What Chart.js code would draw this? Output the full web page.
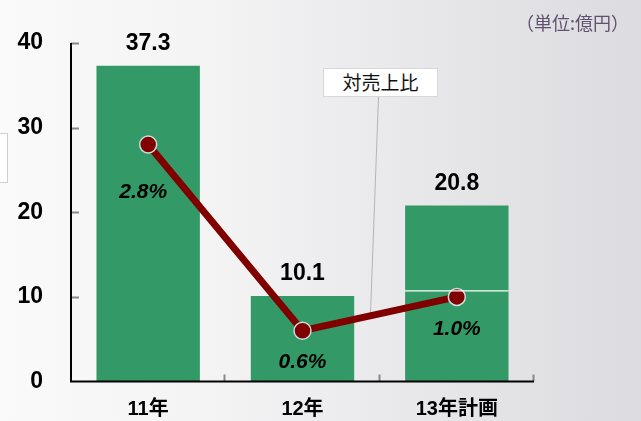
<!DOCTYPE html>
<html>
<head>
<meta charset="utf-8">
<script src="https://cdn.jsdelivr.net/npm/chart.js@4"></script>
<style>
  html, body { margin: 0; padding: 0; }
  body {
    width: 641px; height: 421px; overflow: hidden; position: relative;
    background: linear-gradient(90deg, #fafafa 0%, #f3f3f4 35%, #e6e6e9 70%, #dcdce0 100%);
    font-family: 'Liberation Sans', 'Noto Sans CJK JP', sans-serif;
  }
  #wrap { position: absolute; left: 0; top: 0; width: 641px; height: 421px; }
  .unit {
    position: absolute; right: 12px; top: 9px;
    font: 18px 'Noto Sans CJK JP', sans-serif; color: #5f5070;
  }
  .callout {
    position: absolute; left: 323px; top: 68px; width: 115px; height: 29px;
    background: #fff; border: 1px solid #d8d8d8; box-sizing: border-box;
    font: 19px 'Noto Sans CJK JP', sans-serif; color: #111;
    text-align: center; line-height: 26px;
  }
  .edgebox {
    position: absolute; left: -2px; top: 133px; width: 8px; height: 48px;
    background: #fff; border: 1px solid #cfcfcf;
  }
</style>
</head>
<body>
<div class="edgebox"></div>
<div id="wrap"><canvas id="chart" width="641" height="421"></canvas></div>
<div class="unit">（単位:億円）</div>
<div class="callout">対売上比</div>
<script>
//______________________________________________________
var Years      = ['11年', '12年', '13年計画'];
var Sales      = [37.3, 10.1, 20.8];     // 億円
var SalesRatio = [2.8, 0.6, 1.0];        // 対売上比 %
var SplitAt    = [null, null, 10.7];     // white divider inside the bar
var YTicks     = [0, 10, 20, 30, 40];

const BarColor   = '#339966';
const LineColor  = '#800000';
const PointEdge  = '#c9dde3';
const FontFamily = "'Liberation Sans', 'Noto Sans CJK JP', sans-serif";
const PctDx = [-5, 0, 0];
const PctDy = [48, 31, 32];

//______________________________________________________
// axis frame: y tick marks pointing into the plot, x ticks at category edges
const framePlugin = {
    id: 'frame',
    afterDraw(chart) {
        var ctx = chart.ctx;
        var y = chart.scales.y;
        var a = chart.chartArea;
        ctx.save();
        ctx.strokeStyle = '#888';
        ctx.lineWidth = 2;
        YTicks.forEach(function (v) {
            if (v === 0) return;
            var py = Math.round(y.getPixelForValue(v)) + 0.5;
            ctx.beginPath(); ctx.moveTo(a.left, py); ctx.lineTo(a.left + 8, py); ctx.stroke();
        });
        var step = (a.right - a.left) / Years.length;
        for (var i = 1; i <= Years.length; i++) {
            var px = Math.round(a.left + step * i) - 0.5;
            ctx.beginPath(); ctx.moveTo(px, a.bottom); ctx.lineTo(px, a.bottom - 7); ctx.stroke();
        }
        ctx.strokeStyle = '#000';
        ctx.lineWidth = 2;
        ctx.beginPath();
        ctx.moveTo(a.left, a.top); ctx.lineTo(a.left, a.bottom); ctx.lineTo(a.right, a.bottom);
        ctx.stroke();
        ctx.restore();
    }
};

//______________________________________________________
// values over the bars, ratio labels under the points, leader line of the callout
const labelPlugin = {
    id: 'labels',
    beforeDatasetsDraw(chart) {
        var ctx = chart.ctx;
        ctx.save();
        ctx.strokeStyle = '#b4b4b8';
        ctx.lineWidth = 1;
        ctx.beginPath(); ctx.moveTo(378.5, 97); ctx.lineTo(370.5, 313); ctx.stroke();
        ctx.restore();
    },
    afterDatasetsDraw(chart) {
        var ctx = chart.ctx;
        var bars = chart.getDatasetMeta(0).data;
        var pts  = chart.getDatasetMeta(1).data;
        var y = chart.scales.y;
        ctx.save();
        ctx.strokeStyle = '#ffffff';
        ctx.lineWidth = 1.2;
        SplitAt.forEach(function (v, i) {
            if (v == null) return;
            var b = bars[i], py = y.getPixelForValue(v);
            ctx.beginPath(); ctx.moveTo(b.x - b.width / 2, py); ctx.lineTo(b.x + b.width / 2, py); ctx.stroke();
        });
        ctx.textAlign = 'center';
        ctx.textBaseline = 'middle';
        ctx.fillStyle = '#000';
        ctx.font = 'bold 23px ' + FontFamily;
        Sales.forEach(function (v, i) {
            ctx.fillText(v.toFixed(1), bars[i].x, bars[i].y - 22);
        });
        ctx.font = 'italic bold 21px ' + FontFamily;
        SalesRatio.forEach(function (v, i) {
            ctx.fillText(v.toFixed(1) + '%', pts[i].x + PctDx[i], pts[i].y + PctDy[i]);
        });
        ctx.restore();
    }
};

//______________________________________________________
new Chart(document.getElementById('chart'), {
    data: {
        labels: Years,
        datasets: [{
            type: 'bar',
            data: Sales,
            backgroundColor: BarColor,
            borderWidth: 0,
            categoryPercentage: 0.67,
            barPercentage: 1.0,
            yAxisID: 'y',
            order: 2
        }, {
            type: 'line',
            data: SalesRatio,
            borderColor: LineColor,
            borderWidth: 7,
            pointRadius: 8.5,
            pointBackgroundColor: LineColor,
            pointBorderColor: PointEdge,
            pointBorderWidth: 1.5,
            tension: 0,
            yAxisID: 'y1',
            order: 1
        }]
    },
    options: {
        responsive: false,
        animation: false,
        events: [],
        layout: { padding: { top: 43, right: 107, left: 0, bottom: 0 } },
        plugins: { legend: { display: false }, tooltip: { enabled: false } },
        scales: {
            x: {
                grid: { display: false, drawTicks: false },
                border: { display: false },
                ticks: {
                    padding: 16,
                    color: '#000',
                    font: { family: FontFamily, size: 20, weight: 'bold' }
                },
                afterFit: function (s) { s.height = 39; }
            },
            y: {
                min: 0, max: 40,
                afterBuildTicks: function (s) { s.ticks = YTicks.map(function (v) { return { value: v }; }); },
                grid: { display: false, drawTicks: false },
                border: { display: false },
                ticks: {
                    padding: 28,
                    color: '#000',
                    font: { family: FontFamily, size: 23, weight: 'bold', lineHeight: 1 }
                },
                afterFit: function (s) { s.width = 71; }
            },
            y1: {
                display: false,
                min: 0, max: 4
            }
        }
    },
    plugins: [framePlugin, labelPlugin]
});
</script>
</body>
</html>
